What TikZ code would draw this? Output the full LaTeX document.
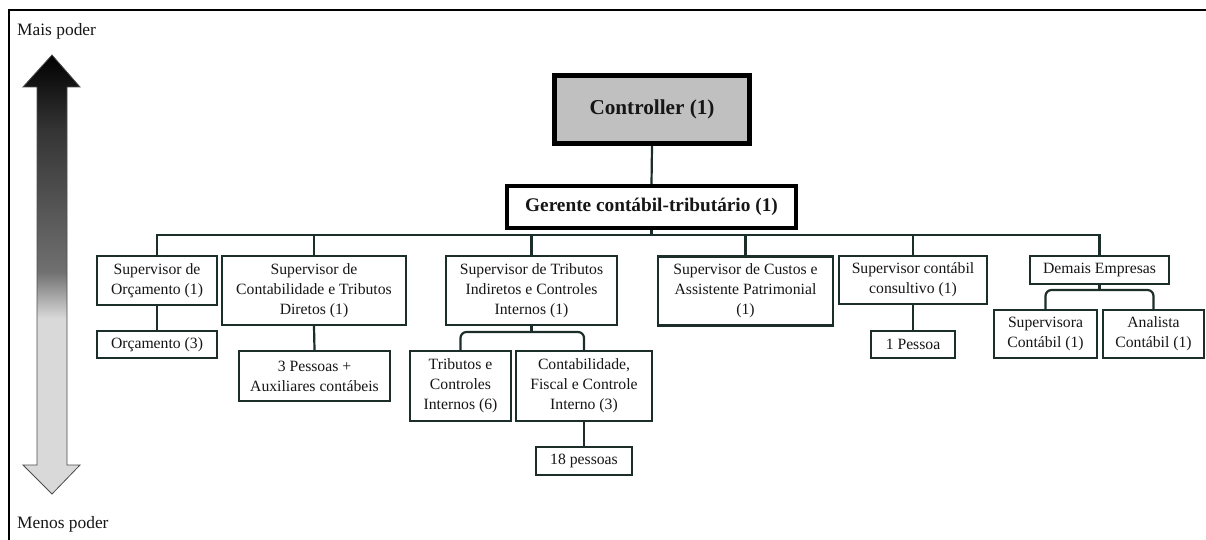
\documentclass[tikz,border=0pt]{standalone}
\usepackage{fontspec}
\setmainfont{Liberation Serif}
\usetikzlibrary{calc}
\definecolor{boxc}{RGB}{28,46,42}
\definecolor{txtc}{RGB}{22,22,22}
\definecolor{ctrlfill}{RGB}{192,192,192}
\definecolor{lgray}{RGB}{217,217,217}
\definecolor{mgray}{RGB}{112,112,112}
\definecolor{dgray}{RGB}{52,52,52}
% power scale: dark at the top, light in the lower half
\pgfdeclareverticalshading{powergrad}{100bp}{%
  color(0bp)=(lgray); color(25bp)=(lgray); color(45bp)=(lgray);
  color(50.3bp)=(mgray); color(66.5bp)=(dgray); color(75bp)=(black);
  color(100bp)=(black)}
\tikzset{
  bx/.style={draw=boxc, line width=2.3pt, fill=white, inner sep=0pt,
    align=center, text=txtc, font=\fontsize{15.7}{20}\selectfont},
  conn/.style={draw=boxc, line width=2.2pt},
  side/.style={anchor=base west, inner sep=0pt, text=txtc,
    font=\fontsize{17.4}{20}\selectfont}
}
\begin{document}
\begin{tikzpicture}[x=1pt,y=-1pt]
\useasboundingbox (0,0) rectangle (1206,540);
% frame
\draw[line width=2pt] (9,540) -- (9,10) -- (1206,10);

% power arrow
\path[shading=powergrad, draw=gray!60!black, line width=0.8pt]
  (52,55) -- (80,87) -- (67,87) -- (67,465) -- (80,465) -- (52,494)
  -- (23,465) -- (37,465) -- (37,87) -- (23,87) -- cycle;
\node[side] (mais) at (17,36) {Mais poder};
\node[side] (menos) at (17,528) {Menos poder};

% top of the hierarchy
\node[draw=black, line width=5pt, fill=ctrlfill, inner sep=0pt,
  minimum width=195pt, minimum height=68pt,
  font=\fontsize{21.2}{24}\selectfont\bfseries, text=txtc]
  (ctrl) at (652,109.5) {Controller (1)};
\node[draw=black, line width=4pt, fill=white, inner sep=0pt,
  minimum width=289pt, minimum height=42pt,
  font=\fontsize{19.3}{22}\selectfont\bfseries, text=txtc]
  (ger) at (651.5,207) {Gerente contábil-tributário (1)};

% supervisors
\node[bx, minimum width=120pt, minimum height=49pt] (supOrc) at (157,280.5)
  {Supervisor de\\Orçamento (1)};
\node[bx, minimum width=184pt, minimum height=69pt] (supCont) at (314,290.5)
  {Supervisor de\\Contabilidade e Tributos\\Diretos (1)};
\node[bx, minimum width=171pt, minimum height=69pt] (supTrib) at (531.5,290.5)
  {Supervisor de Tributos\\Indiretos e Controles\\Internos (1)};
\node[bx, minimum width=175pt, minimum height=69pt] (supCust) at (745.5,291)
  {Supervisor de Custos e\\Assistente Patrimonial\\(1)};
\node[bx, minimum width=148pt, minimum height=48pt] (supCons) at (913,280)
  {Supervisor contábil\\consultivo (1)};
\node[bx, minimum width=139pt, minimum height=28pt] (demais) at (1099.5,270)
  {Demais Empresas};

% teams
\node[bx, minimum width=120pt, minimum height=27pt] (orc3) at (157,344.5)
  {Orçamento (3)};
\node[bx, minimum width=151pt, minimum height=50pt] (pess3) at (314.5,376)
  {3 Pessoas +\\Auxiliares contábeis};
\node[bx, minimum width=101pt, minimum height=70pt] (tribCI) at (460.5,386)
  {Tributos e\\Controles\\Internos (6)};
\node[bx, minimum width=136pt, minimum height=70pt] (contFis) at (584,386)
  {Contabilidade,\\Fiscal e Controle\\Interno (3)};
\node[bx, minimum width=96pt, minimum height=28pt] (p18) at (584,461)
  {18 pessoas};
\node[bx, minimum width=84pt, minimum height=27pt] (p1) at (913,344.5)
  {1 Pessoa};
\node[bx, minimum width=103pt, minimum height=48pt] (supv) at (1045.5,334)
  {Supervisora\\Contábil (1)};
\node[bx, minimum width=101pt, minimum height=48pt] (anal) at (1153.5,334)
  {Analista\\Contábil (1)};

% junction points
\coordinate (bus) at (651.5,235);
\coordinate (tj) at (531.5,332);
\coordinate (dj) at (1099.5,290);

% connectors
\draw[conn] (ctrl.south) -- (ger.north);
\draw[conn] (ger.south) -- (bus);
\draw[conn] (supOrc.north) -- (supOrc.north |- bus) -- (demais.north |- bus) -- (demais.north);
\foreach \n in {supCont,supTrib,supCust,supCons}
  \draw[conn] (\n.north) -- (\n.north |- bus);
\draw[conn] (supOrc.south) -- (orc3.north);
\draw[conn] (supCont.south) -- (pess3.north);
\draw[conn] (supTrib.south) -- (tj);
\draw[conn, rounded corners=6pt] (tribCI.north) |- (tj) -| (contFis.north);
\draw[conn] (contFis.south) -- (p18.north);
\draw[conn] (supCons.south) -- (p1.north);
\draw[conn] (demais.south) -- (dj);
\draw[conn, rounded corners=6pt] (supv.north) |- (dj) -| (anal.north);
\end{tikzpicture}
\end{document}
